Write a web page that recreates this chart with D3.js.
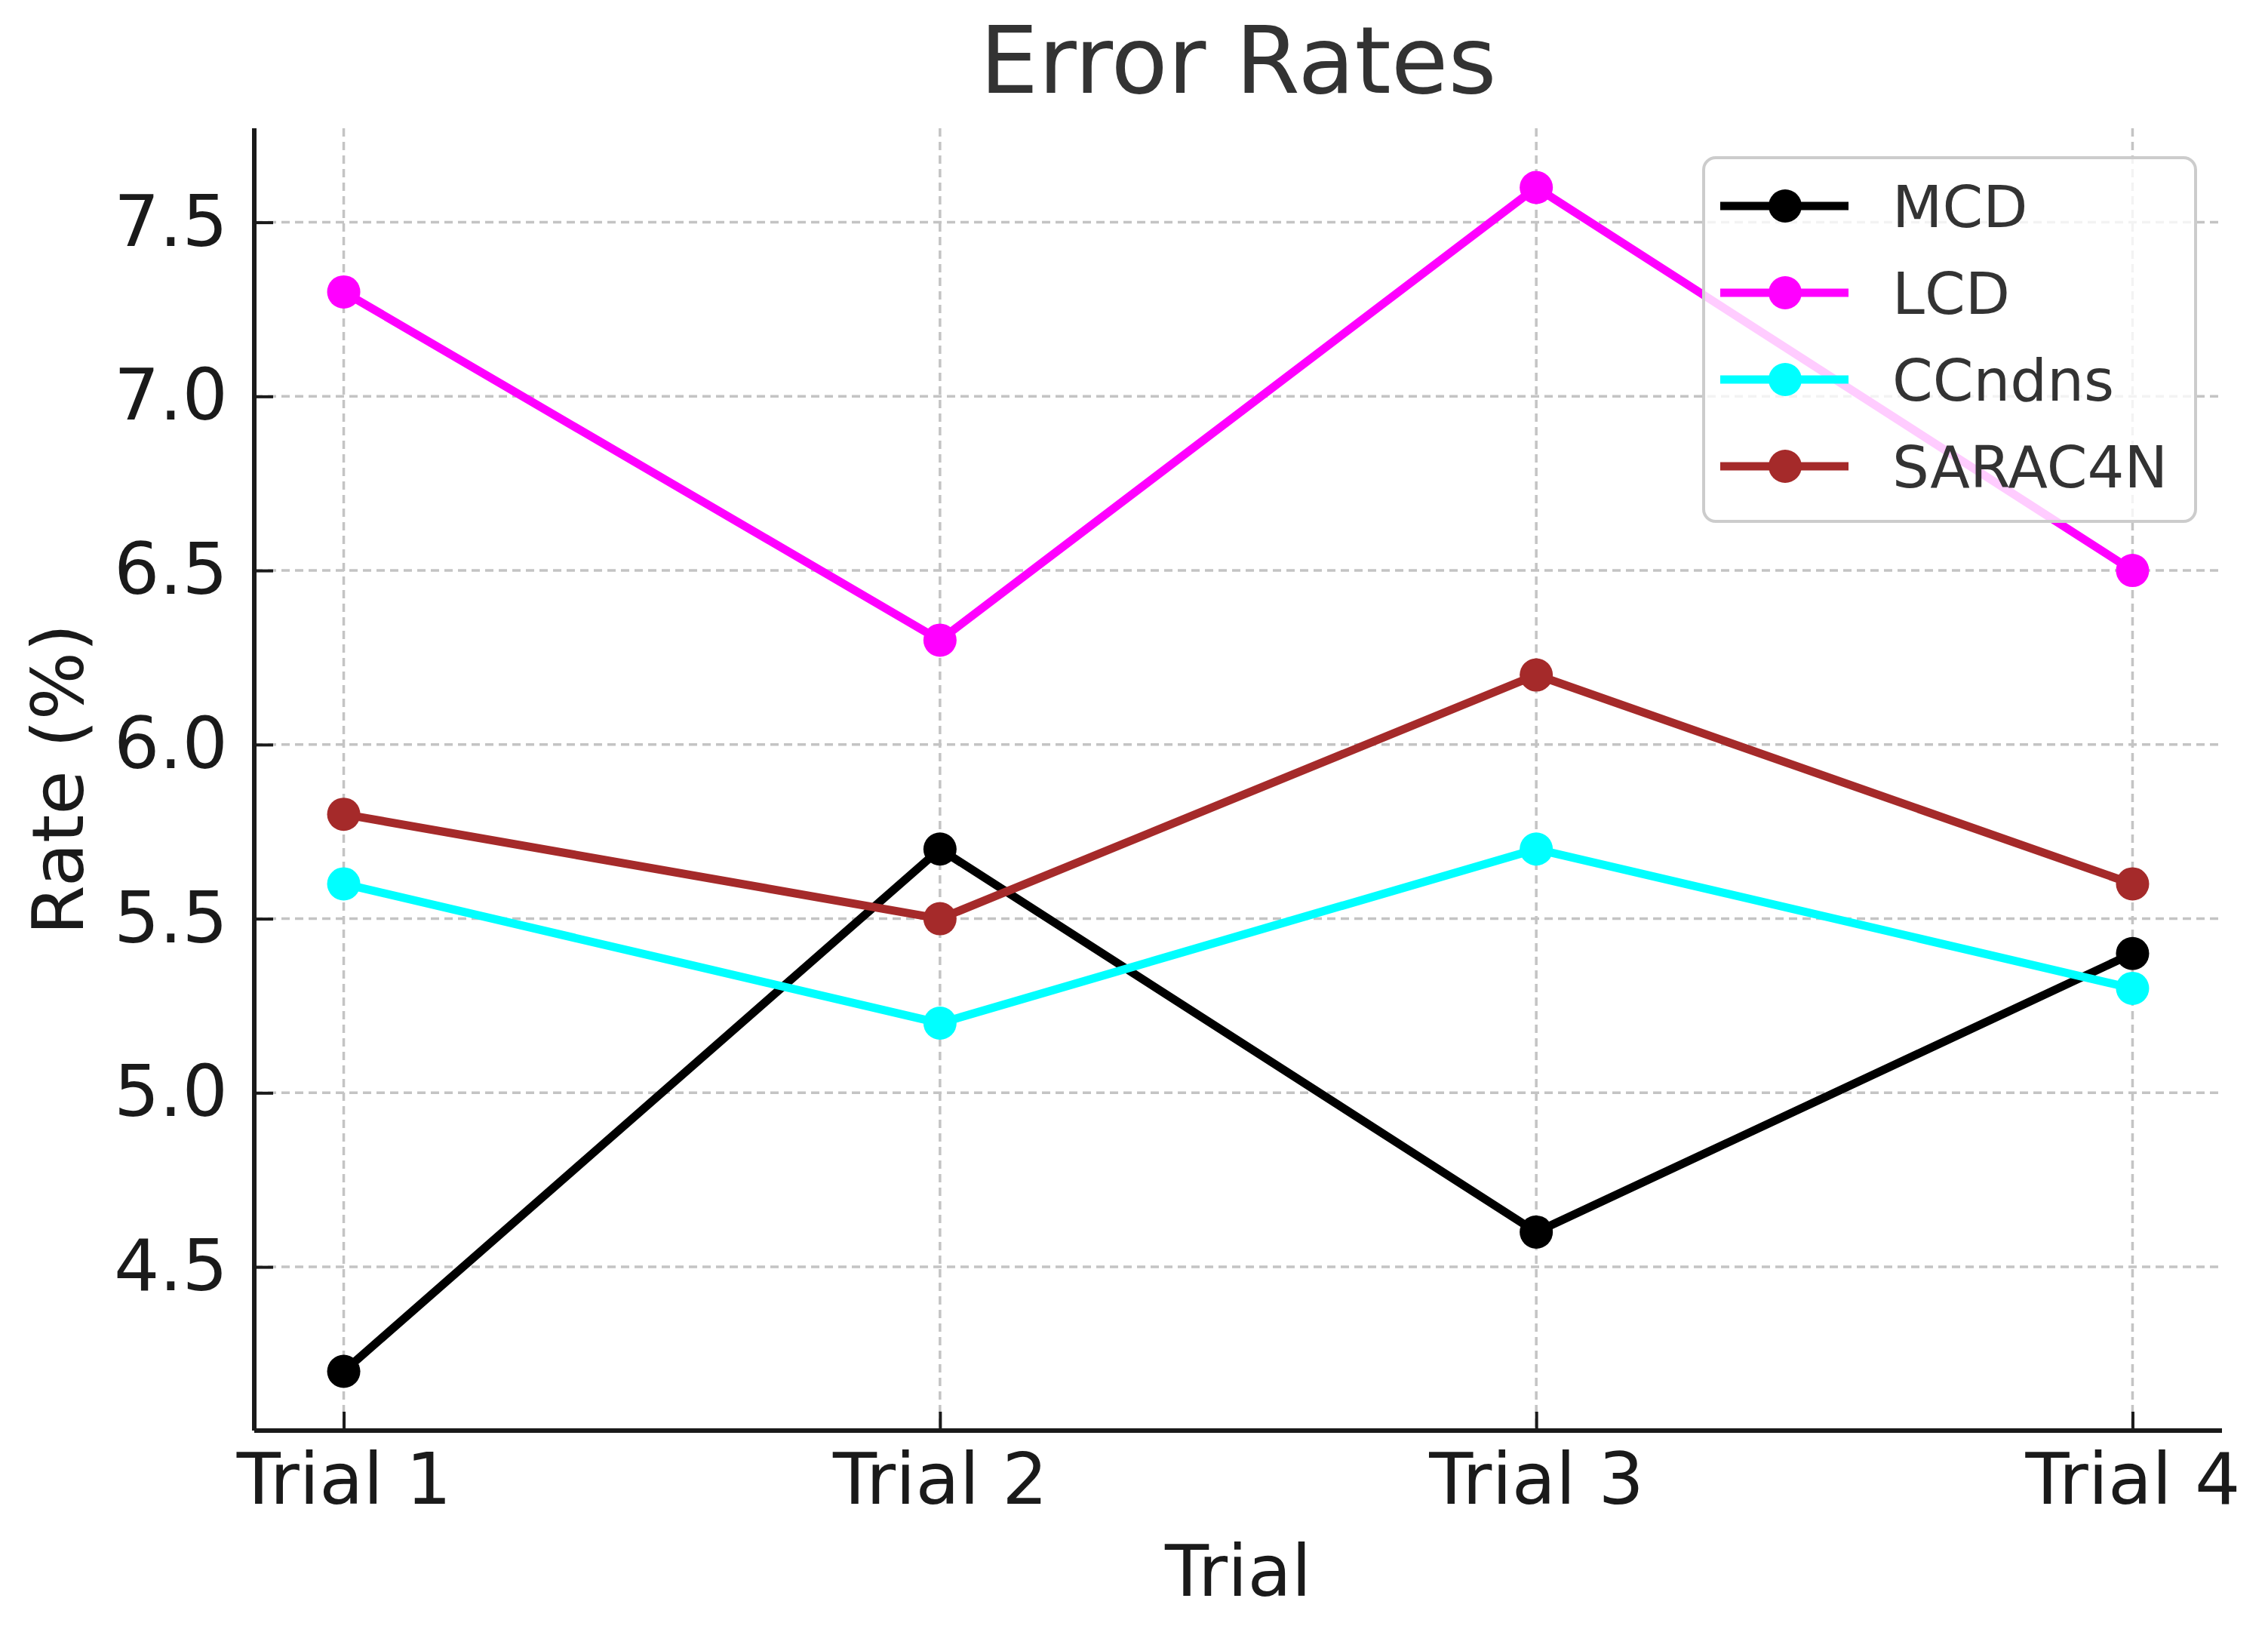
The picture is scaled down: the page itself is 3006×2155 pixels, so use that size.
<!DOCTYPE html>
<html>
<head>
<meta charset="utf-8">
<script src="https://cdn.jsdelivr.net/npm/d3@7"></script>
<style>
  body { margin: 0; background: #fff; }
  svg { display: block; font-family: "DejaVu Sans", sans-serif; }
</style>
</head>
<body>
<div id="chart"></div>
<script>
// values
const trials = ["Trial 1", "Trial 2", "Trial 3", "Trial 4"];
const mcd = [4.2, 5.7, 4.6, 5.4];
const lcd = [7.3, 6.3, 7.6, 6.5];
const ccndns = [5.6, 5.2, 5.7, 5.3];
const sarac4n = [5.8, 5.5, 6.2, 5.6];
const yTicks = [4.5, 5.0, 5.5, 6.0, 6.5, 7.0, 7.5];

const series = [
  { name: "MCD", values: mcd, color: "#000000" },
  { name: "LCD", values: lcd, color: "#ff00ff" },
  { name: "CCndns", values: ccndns, color: "#00ffff" },
  { name: "SARAC4N", values: sarac4n, color: "#a52a2a" }
];

const width = 3006, height = 2155;
const margin = { top: 170, right: 61, bottom: 259, left: 337 };
const plotW = width - margin.left - margin.right;
const plotH = height - margin.top - margin.bottom;

const svg = d3.select("#chart").append("svg")
  .attr("width", width)
  .attr("height", height);

const g = svg.append("g")
  .attr("transform", `translate(${margin.left},${margin.top})`);

const x = d3.scalePoint()
  .domain(trials)
  .range([0, plotW])
  .padding(0.15);

// matplotlib style 5% margin around the data
const all = series.flatMap(s => s.values);
const [lo, hi] = d3.extent(all);
const pad = (hi - lo) * 0.05;
const y = d3.scaleLinear()
  .domain([lo - pad, hi + pad])
  .range([plotH, 0]);

// grid
const grid = g.append("g").attr("class", "grid")
  .attr("stroke", "#c4c4c4")
  .attr("stroke-width", 3.5)
  .attr("stroke-dasharray", "11,7");
grid.selectAll(".gx").data(trials).enter().append("line")
  .attr("x1", d => x(d)).attr("x2", d => x(d))
  .attr("y1", 0).attr("y2", plotH);
grid.selectAll(".gy").data(yTicks).enter().append("line")
  .attr("x1", 0).attr("x2", plotW)
  .attr("y1", d => y(d)).attr("y2", d => y(d));

// axes, ticks pointing inward
const xAxis = g.append("g")
  .attr("transform", `translate(0,${plotH})`)
  .call(d3.axisBottom(x).tickSize(-25).tickPadding(30));
const yAxis = g.append("g")
  .call(d3.axisLeft(y).tickValues(yTicks).tickFormat(d3.format(".1f")).tickSize(-25).tickPadding(35));

[xAxis, yAxis].forEach(a => {
  a.select(".domain").attr("stroke", "#1a1a1a").attr("stroke-width", 6);
  a.selectAll(".tick line").attr("stroke", "#1a1a1a").attr("stroke-width", 4);
  a.selectAll(".tick text")
    .attr("fill", "#1a1a1a")
    .style("font-size", "95px")
    .style("font-family", "DejaVu Sans, sans-serif");
});
// keep domain as plain line (no end caps)
xAxis.select(".domain").attr("d", `M0,0H${plotW}`);
yAxis.select(".domain").attr("d", `M0,${plotH}V0`);

// lines + markers
const line = d3.line()
  .x((d, i) => x(trials[i]))
  .y(d => y(d));

series.forEach(s => {
  const sg = g.append("g").attr("class", "series");
  sg.append("path")
    .datum(s.values)
    .attr("fill", "none")
    .attr("stroke", s.color)
    .attr("stroke-width", 11)
    .attr("stroke-linejoin", "round")
    .attr("d", line);
  sg.selectAll("circle").data(s.values).enter().append("circle")
    .attr("cx", (d, i) => x(trials[i]))
    .attr("cy", d => y(d))
    .attr("r", 22)
    .attr("fill", s.color);
});

// legend
const legW = 652, legH = 482;
const legX = plotW - 35 - legW, legY = 39;
const leg = g.append("g").attr("transform", `translate(${legX},${legY})`);
leg.append("rect")
  .attr("width", legW).attr("height", legH)
  .attr("rx", 16).attr("ry", 16)
  .attr("fill", "#fff").attr("fill-opacity", 0.8)
  .attr("stroke", "#cccccc").attr("stroke-width", 4);

const items = leg.selectAll(".item").data(series).enter().append("g")
  .attr("transform", (d, i) => `translate(0,${64 + i * 115})`);
items.append("line")
  .attr("x1", 22).attr("x2", 192)
  .attr("stroke", d => d.color).attr("stroke-width", 11);
items.append("circle")
  .attr("cx", 108).attr("r", 22)
  .attr("fill", d => d.color);
items.append("text")
  .attr("x", 250).attr("dy", "0.36em")
  .attr("fill", "#333")
  .style("font-size", "77px")
  .text(d => d.name);

// titles
svg.append("text")
  .attr("x", margin.left + plotW / 2).attr("y", 123)
  .attr("text-anchor", "middle")
  .attr("fill", "#333")
  .style("font-size", "123px")
  .text("Error Rates");

svg.append("text")
  .attr("x", margin.left + plotW / 2).attr("y", 2115)
  .attr("text-anchor", "middle")
  .attr("fill", "#1a1a1a")
  .style("font-size", "95px")
  .text("Trial");

svg.append("text")
  .attr("transform", `translate(110,${margin.top + plotH / 2}) rotate(-90)`)
  .attr("text-anchor", "middle")
  .attr("fill", "#1a1a1a")
  .style("font-size", "95px")
  .text("Rate (%)");
</script>
</body>
</html>
